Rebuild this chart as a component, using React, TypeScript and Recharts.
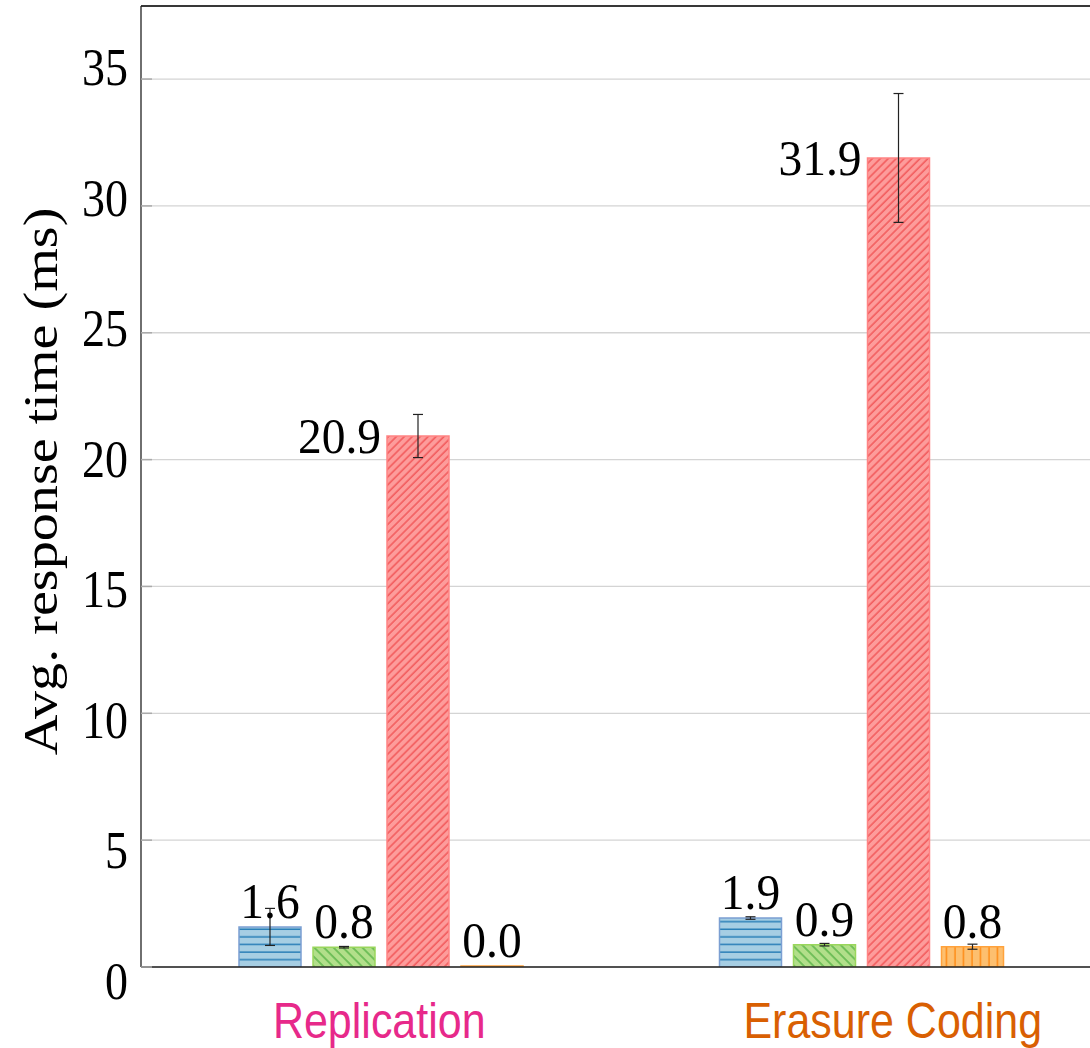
import { BarChart, Bar, XAxis, YAxis, CartesianGrid, ErrorBar, LabelList, ReferenceLine } from 'recharts';

// categories + per-series means / error (half range)
const categories = ['Replication', 'Erasure Coding'];
const blueValues = [1.58, 1.93];
const blueErrors = [0.73, 0.05];
const greenValues = [0.78, 0.88];
const greenErrors = [0.03, 0.05];
const redValues = [20.93, 31.89];
const redErrors = [0.85, 2.54];
const orangeValues = [0.0, 0.8];
const orangeErrors = [0, 0.1];
const yTicks = [0, 5, 10, 15, 20, 25, 30, 35];
const yMax = 37.88;

const data = categories.map((name, i) => ({
  name,
  blue: blueValues[i],
  blueErr: blueErrors[i],
  green: greenValues[i],
  greenErr: greenErrors[i],
  red: redValues[i],
  redErr: redErrors[i],
  orange: orangeValues[i],
  orangeErr: orangeErrors[i],
}));

const SERIF = '"Liberation Serif", "Times New Roman", serif';
const SANS = '"Liberation Sans", Arial, sans-serif';

const catStyle: Record<string, { color: string; dx: number }> = {
  Replication: { color: '#e7298a', dx: -2 },
  'Erasure Coding': { color: '#d95f02', dx: 31 },
};

const YTick = (props: any) => {
  const { x, y, payload } = props;
  const v = Number(payload.value);
  // labels in the original sit on a slightly stretched scale
  const base = y + 13 - 0.73 * v + 18.5;
  return (
    <g>
      <line x1={x} x2={x + 11} y1={y} y2={y} stroke="#aaa" strokeWidth={1.5} />
      <text
        transform={`translate(${x - 13},${base}) scale(1,1.17)`}
        textAnchor="end"
        fontFamily={SERIF}
        fontSize={46}
        fill="#000"
      >
        {payload.value}
      </text>
    </g>
  );
};

const XTick = (props: any) => {
  const { x, y, payload } = props;
  const s = catStyle[payload.value] || { color: '#000', dx: 0 };
  return (
    <text
      transform={`translate(${x + s.dx},${y + 71}) scale(1,1.17)`}
      textAnchor="middle"
      fontFamily={SANS}
      fontSize={43}
      fill={s.color}
    >
      {payload.value}
    </text>
  );
};

const YLabel = (props: any) => {
  const vb = props.viewBox || { x: 0, y: 6, width: 141, height: 961 };
  const cx = vb.x + 40;
  const cy = vb.y + vb.height / 2 - 5;
  return (
    <text
      transform={`translate(${cx},${cy}) scale(1,1.17) rotate(-90)`}
      textAnchor="middle"
      dominantBaseline="central"
      fontFamily={SERIF}
      fontSize={48}
      fill="#000"
    >
      Avg. response time (ms)
    </text>
  );
};

const makeLabel = (side: 'top' | 'left') => (props: any) => {
  const { x, y, width, value } = props;
  const text = Number(value).toFixed(1);
  const X = Number(x);
  const Y = Number(y);
  const W = Number(width);
  if (side === 'left') {
    return (
      <text
        transform={`translate(${X - 6},${Y + 17}) scale(1,1.06)`}
        textAnchor="end"
        fontFamily={SERIF}
        fontSize={47.5}
        fill="#000"
      >
        {text}
      </text>
    );
  }
  return (
    <text
      transform={`translate(${X + W / 2},${Y - 9}) scale(1,1.06)`}
      textAnchor="middle"
      fontFamily={SERIF}
      fontSize={47.5}
      fill="#000"
    >
      {text}
    </text>
  );
};

const Patterns = () => (
  <svg width={0} height={0} style={{ position: 'absolute' }}>
    <defs>
      <pattern id="patBlue" patternUnits="userSpaceOnUse" width={10} height={7.6}>
        <rect width={10} height={7.6} fill="#a6cee3" />
        <line x1={0} x2={10} y1={2.1} y2={2.1} stroke="#1f78b4" strokeWidth={1.4} />
      </pattern>
      <pattern id="patGreen" patternUnits="userSpaceOnUse" width={6.8} height={10} patternTransform="rotate(-45)">
        <rect width={6.8} height={10} fill="#b2df8a" />
        <line x1={1} x2={1} y1={0} y2={10} stroke="#33a02c" strokeWidth={1} />
      </pattern>
      <pattern id="patRed" patternUnits="userSpaceOnUse" width={5.6} height={10} patternTransform="rotate(45)">
        <rect width={5.6} height={10} fill="#fd9c9b" />
        <line x1={1} x2={1} y1={0} y2={10} stroke="#e8262a" strokeWidth={0.9} />
      </pattern>
      <pattern id="patOrange" patternUnits="userSpaceOnUse" width={8.5} height={10}>
        <rect width={8.5} height={10} fill="#fdbf6f" />
        <line x1={3} x2={3} y1={0} y2={10} stroke="#ff7f00" strokeWidth={1.2} />
      </pattern>
    </defs>
  </svg>
);

export default function App() {
  return (
    <div style={{ position: 'absolute', left: 0, top: 0, width: 1090, height: 1048, overflow: 'hidden', background: '#fff' }}>
      <Patterns />
      <BarChart
        width={1103}
        height={1048}
        data={data}
        margin={{ top: 6, right: 1, bottom: 0, left: 0 }}
        barGap={12}
      >
        <CartesianGrid horizontal vertical={false} stroke="#d4d4d4" strokeWidth={1.3} />
        <ReferenceLine y={yMax} stroke="#000" strokeWidth={1.3} />
        <XAxis
          dataKey="name"
          height={81}
          axisLine={{ stroke: '#222', strokeWidth: 1.3 }}
          tickLine={false}
          tickSize={0}
          tickMargin={0}
          tick={<XTick />}
          interval={0}
        />
        <YAxis
          width={141}
          domain={[0, yMax]}
          ticks={yTicks}
          allowDataOverflow
          axisLine={{ stroke: '#222', strokeWidth: 1.3 }}
          tickLine={false}
          tickSize={0}
          tickMargin={0}
          tick={<YTick />}
          label={<YLabel />}
        />
        <Bar dataKey="blue" barSize={62} fill="url(#patBlue)" stroke="#7b9fd2" strokeWidth={1.5} isAnimationActive={false}>
          <ErrorBar dataKey="blueErr" width={5} stroke="#222" strokeWidth={1.2} direction="y" />
          <LabelList dataKey="blue" content={makeLabel('top')} />
        </Bar>
        <Bar dataKey="green" barSize={62} fill="url(#patGreen)" stroke="#9ad65c" strokeWidth={1.5} isAnimationActive={false}>
          <ErrorBar dataKey="greenErr" width={5} stroke="#222" strokeWidth={1.2} direction="y" />
          <LabelList dataKey="green" content={makeLabel('top')} />
        </Bar>
        <Bar dataKey="red" barSize={62} fill="url(#patRed)" stroke="#ff8484" strokeWidth={1.5} isAnimationActive={false}>
          <ErrorBar dataKey="redErr" width={5} stroke="#222" strokeWidth={1.2} direction="y" />
          <LabelList dataKey="red" content={makeLabel('left')} />
        </Bar>
        <Bar dataKey="orange" barSize={62} fill="url(#patOrange)" stroke="#ffa23c" strokeWidth={1.5} minPointSize={1} isAnimationActive={false}>
          <ErrorBar dataKey="orangeErr" width={5} stroke="#222" strokeWidth={1.2} direction="y" />
          <LabelList dataKey="orange" content={makeLabel('top')} />
        </Bar>
      </BarChart>
    </div>
  );
}
